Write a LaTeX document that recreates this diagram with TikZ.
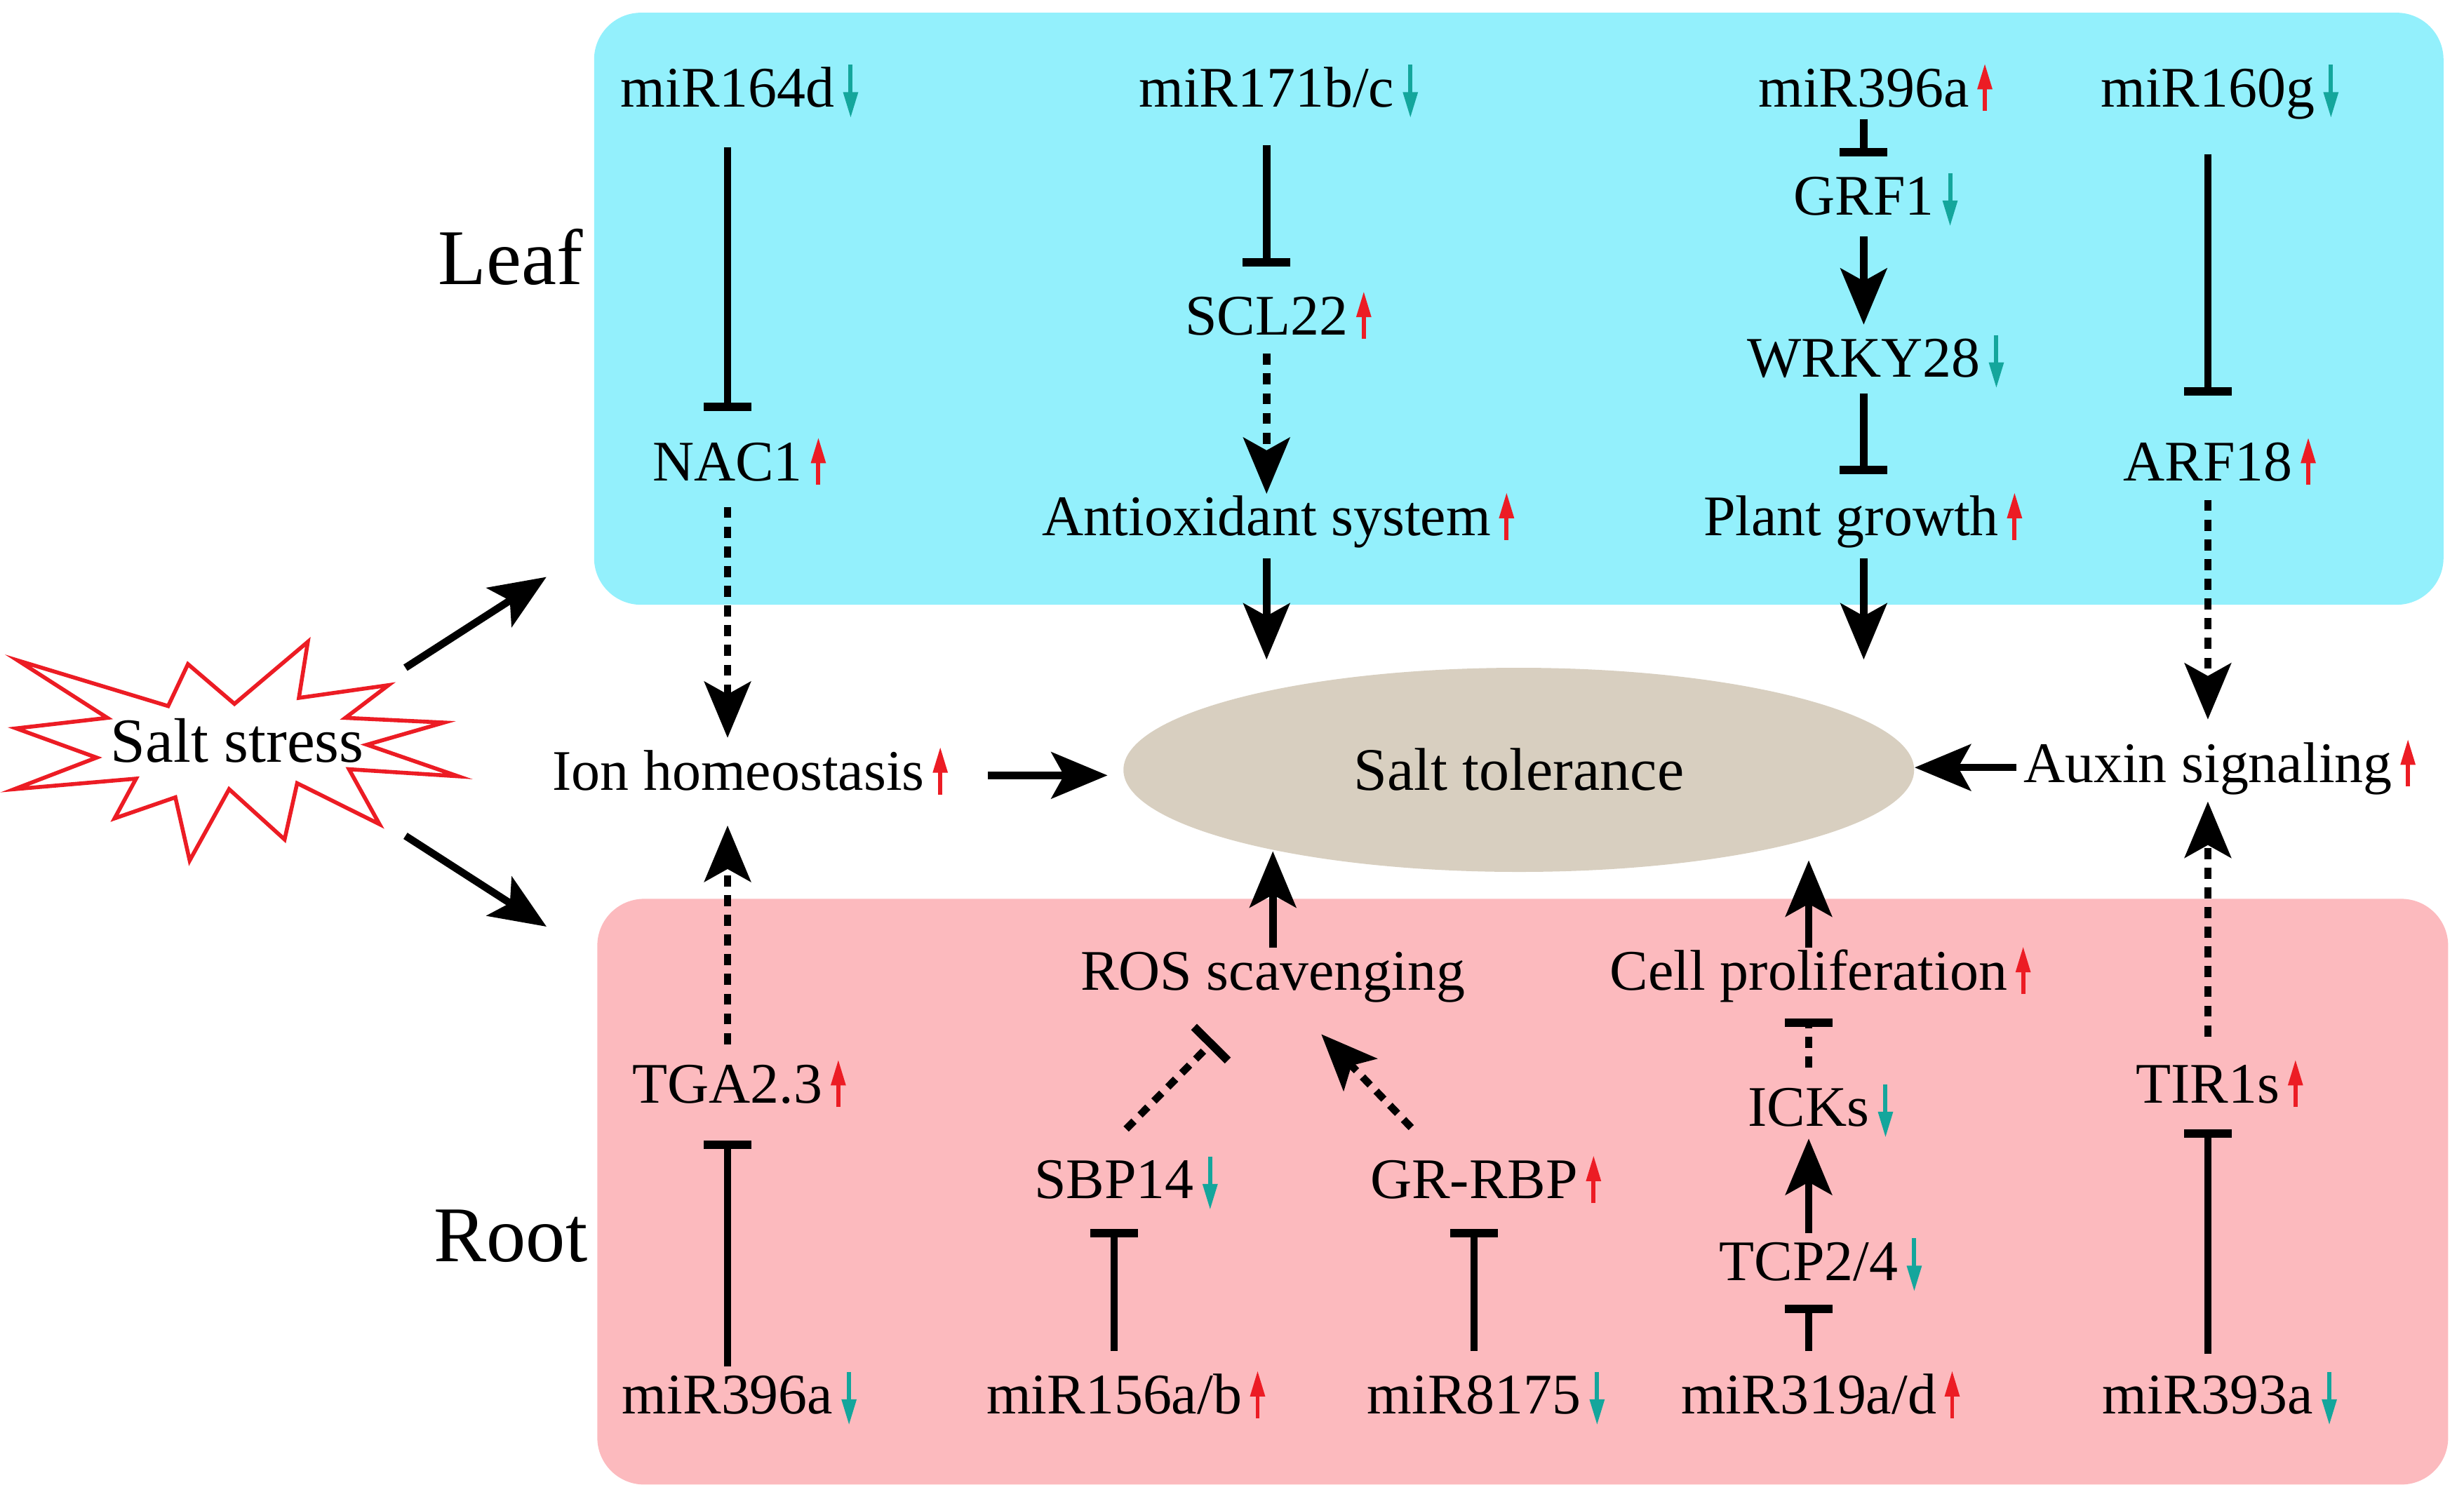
\documentclass[tikz,border=0pt]{standalone}
\usepackage{fontspec}
\setmainfont{Liberation Serif}
\usetikzlibrary{shapes.geometric, arrows.meta}
\definecolor{leafcyan}{RGB}{147,240,252}
\definecolor{rootpink}{RGB}{252,186,190}
\definecolor{tolgrey}{RGB}{216,207,192}
\definecolor{upred}{RGB}{236,28,36}
\definecolor{downteal}{RGB}{20,166,156}
\newcommand{\upreg}{\rlap{\hspace{1.25mm}\tikz[baseline=0pt]\draw[upred, line width=1.7pt, -{Triangle[length=3.7mm,width=2mm]}] (0pt,-0.6mm) -- (0pt,6.2mm);}}
\newcommand{\downreg}{\rlap{\hspace{1.3mm}\tikz[baseline=0pt]\draw[downteal, line width=1.7pt, -{Triangle[length=3.7mm,width=2mm]}] (0pt,6mm) -- (0pt,-1.6mm);}}

\begin{document}
\begin{tikzpicture}[x=0.22398mm, y=-0.22398mm,
    lbl/.style={inner sep=0pt, anchor=base, text height=16.8pt, text depth=4.7pt, font=\fontsize{23.3}{28}\selectfont},
    organ/.style={inner sep=0pt, anchor=base, font=\fontsize{32}{38}\selectfont},
    inh/.style={line width=3pt, -{Rectangle[length=1.2mm,width=6.8mm]}},
    act/.style={line width=3pt, -{Stealth[length=8mm,width=6.6mm,inset=1.8mm]}},
    dinh/.style={inh, dash pattern=on 4.5pt off 3.5pt},
    dact/.style={act, dash pattern=on 4.5pt off 3.5pt}]
    \useasboundingbox (0,0) rectangle (1568,954);

    \node[fill=leafcyan, rounded corners=19pt, minimum width=263.6mm, minimum height=84.4mm] (leafbox) at (966.5,196.5) {};
    \node[fill=rootpink, rounded corners=19pt, minimum width=263.8mm, minimum height=83.5mm] (rootbox) at (969,758.5) {};
    \node[ellipse, fill=tolgrey, minimum width=112.7mm, minimum height=29.1mm, inner sep=0pt, font=\fontsize{24.5}{29}\selectfont] (tol) at (966.5,490) {Salt tolerance};

    \draw[upred, line width=1.6pt, fill=white] (11.4,420.4) -- (107,449.4) -- (119.6,422.7) -- (149.2,448) -- (195.9,408.5) -- (190.2,444.2) -- (247.2,436.1) -- (219.8,456.9) -- (282.5,459.9) -- (233.5,474) -- (291.6,494.1) -- (222.1,489.6) -- (241.5,524.6) -- (189.1,498.5) -- (181.1,534.3) -- (145.8,502.3) -- (120.7,547.7) -- (111.6,507.5) -- (72.9,520.9) -- (86.6,495.6) -- (9.1,502.3) -- (61.5,482.2) -- (10.3,463.6) -- (68.3,456.9) -- cycle;
    \node[lbl, font=\fontsize{25.5}{30}\selectfont] (salt) at (151,485) {Salt stress};
    \coordinate (burstne) at (258,425);
    \coordinate (burstse) at (258,532);

    \node[organ] (leaf) at (325,181) {Leaf};
    \node[organ] (root) at (325,803) {Root};

    \node[lbl] (mir164d) at (463,68) {miR164d\downreg};
    \node[lbl] (mir171bc) at (806,68) {miR171b/c\downreg};
    \node[lbl] (mir396aleaf) at (1186,68) {miR396a\upreg};
    \node[lbl] (mir160g) at (1405,68) {miR160g\downreg};
    \node[lbl] (grf1) at (1186,137) {GRF1\downreg};
    \node[lbl] (scl22) at (806,213) {SCL22\upreg};
    \node[lbl] (wrky28) at (1186,240) {WRKY28\downreg};
    \node[lbl] (nac1) at (463,306) {NAC1\upreg};
    \node[lbl] (arf18) at (1405,306) {ARF18\upreg};
    \node[lbl] (antiox) at (806,341) {Antioxidant system\upreg};
    \node[lbl] (growth) at (1178,341) {Plant growth\upreg};
    \node[lbl] (ionhom) at (470,503) {Ion homeostasis\upreg};
    \node[lbl] (auxin) at (1405,498) {Auxin signaling\upreg};
    \node[lbl] (ros) at (810,630) {ROS scavenging};
    \node[lbl] (cellpro) at (1151,630) {Cell proliferation\upreg};
    \node[lbl] (tga23) at (463,702) {TGA2.3\upreg};
    \node[lbl] (tir1s) at (1405,702) {TIR1s\upreg};
    \node[lbl] (icks) at (1151,717) {ICKs\downreg};
    \node[lbl] (sbp14) at (709,763) {SBP14\downreg};
    \node[lbl] (grrbp) at (938,763) {GR-RBP\upreg};
    \node[lbl] (tcp24) at (1151,815) {TCP2/4\downreg};
    \node[lbl] (mir396aroot) at (463,900) {miR396a\downreg};
    \node[lbl] (mir156ab) at (709,900) {miR156a/b\upreg};
    \node[lbl] (mir8175) at (938,900) {miR8175\downreg};
    \node[lbl] (mir319ad) at (1151,900) {miR319a/d\upreg};
    \node[lbl] (mir393a) at (1405,900) {miR393a\downreg};

    \draw[act] (burstne) -- ([shift={(-30,-18)}]leafbox.south west);
    \draw[act] (burstse) -- ([shift={(-32,18)}]rootbox.north west);

    \draw[inh, shorten <=4mm, shorten >=4mm] (mir164d) -- (nac1);
    \draw[dact, shorten <=2mm, shorten >=1.5mm] (nac1) -- (nac1 |- ionhom.north);
    \draw[dact, shorten <=2.4mm, shorten >=3.3mm] (tga23) -- (tga23 |- ionhom.south);
    \draw[inh, shorten <=0.8mm, shorten >=3.6mm] (mir396aroot) -- (tga23);
    \draw[act, shorten <=9mm, shorten >=2.2mm] (ionhom.east) -- (ionhom.east -| tol.west);

    \draw[inh, shorten <=3.7mm, shorten >=3.7mm] (mir171bc) -- (scl22);
    \draw[dact, shorten <=1mm] (scl22) -- (antiox);
    \draw[act, shorten <=1.5mm, shorten >=1.1mm] (antiox) -- (antiox |- tol.north);

    \draw[inh, shorten >=2.4mm] (mir396aleaf) -- (grf1);
    \draw[act, shorten <=1.3mm, shorten >=1.5mm] (grf1) -- (wrky28);
    \draw[inh, shorten <=0.6mm, shorten >=2.8mm] (wrky28) -- (wrky28 |- growth.north);
    \draw[act, shorten <=1.5mm, shorten >=1.1mm] (wrky28 |- growth.south) -- (wrky28 |- tol.north);

    \draw[inh, shorten <=5mm, shorten >=6.2mm] (mir160g) -- (arf18);
    \draw[dact, shorten <=1mm, shorten >=3mm] (arf18) -- (auxin);
    \draw[dact, shorten <=3.5mm, shorten >=1mm] (tir1s) -- (auxin);
    \draw[inh, shorten <=2.6mm, shorten >=2mm] (mir393a) -- (tir1s);
    \draw[act, shorten <=1mm] (auxin.west) -- (auxin.west -| tol.east);

    \draw[act, shorten >=11.6mm] (ros) -- (ros |- tol.center);
    \draw[act, shorten >=12.9mm] (cellpro) -- (cellpro |- tol.center);
    \draw[dinh, shorten <=2.4mm, shorten >=2.4mm] (icks) -- (cellpro);
    \draw[act, shorten <=0.8mm] (tcp24) -- (icks);
    \draw[inh, shorten <=3mm, shorten >=1.7mm] (mir319ad) -- (tcp24);
    \draw[inh, shorten <=3mm, shorten >=2.6mm] (mir156ab) -- (sbp14);
    \draw[inh, shorten <=3mm, shorten >=2.6mm] (mir8175) -- (grrbp);
    \draw[dinh, shorten <=5.6mm, shorten >=7.8mm] ([shift={(-10,0)}]sbp14.north) -- ([shift={(-13,0)}]ros.south);
    \draw[dact, shorten <=5.8mm, shorten >=6.4mm] ([shift={(-22,0)}]grrbp.north) -- ([shift={(11,0)}]ros.south);
\end{tikzpicture}
\end{document}
